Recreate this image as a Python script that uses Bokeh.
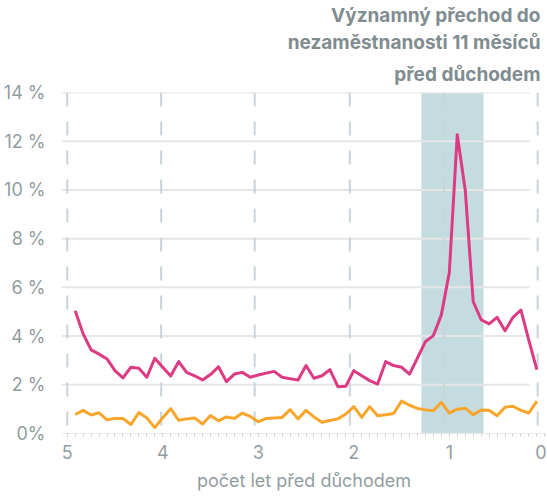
from bokeh.plotting import figure
from bokeh.models import Range1d, Span, Title, SingleIntervalTicker, FixedTicker
from bokeh.embed import file_html
from bokeh.resources import INLINE

# months before retirement (59 .. 1)
months = list(range(59, 0, -1))
pink = [5.04, 4.09, 3.43, 3.26, 3.06, 2.58, 2.28, 2.72, 2.68, 2.31,
        3.09, 2.72, 2.36, 2.95, 2.51, 2.37, 2.20, 2.42, 2.74, 2.13,
        2.44, 2.51, 2.31, 2.40, 2.48, 2.55, 2.31, 2.25, 2.20, 2.79,
        2.27, 2.37, 2.62, 1.92, 1.94, 2.58, 2.37, 2.17, 2.03, 2.95,
        2.79, 2.72, 2.44, 3.10, 3.77, 4.02, 4.87, 6.61, 12.27, 10.00,
        5.42, 4.67, 4.50, 4.77, 4.22, 4.77, 5.07, 3.81, 2.62]
orange = [0.78, 0.95, 0.76, 0.85, 0.56, 0.62, 0.62, 0.37, 0.86, 0.64,
          0.24, 0.65, 1.02, 0.54, 0.60, 0.64, 0.39, 0.74, 0.52, 0.68,
          0.62, 0.84, 0.70, 0.48, 0.62, 0.64, 0.66, 0.98, 0.60, 0.95,
          0.68, 0.46, 0.53, 0.60, 0.80, 1.10, 0.66, 1.10, 0.73, 0.77,
          0.82, 1.33, 1.16, 1.03, 0.97, 0.93, 1.28, 0.84, 1.00, 1.04,
          0.77, 0.96, 0.95, 0.73, 1.08, 1.12, 0.95, 0.84, 1.33]

y_ticks = [0, 2, 4, 6, 8, 10, 12, 14]
y_labels = ["0%", "2 %", "4 %", "6 %", "8 %", "10 %", "12 %", "14 %"]
x_ticks = [60, 48, 36, 24, 12, 0]
x_labels = ["5", "4", "3", "2", "1", "0"]
band_start = [15.5]
band_end = [7.7]
band_top = [14]
band_bottom = [0]
vgrid_pos = [60, 48.2, 36.45, 24.5, 12.7, 0.9]
title_lines = ["Významný přechod do", "nezaměstnanosti 11 měsíců", "před důchodem"]
x_title = "počet let před důchodem"

FONT = "Inter"
LABEL_COLOR = "#929da0"

p = figure(frame_width=485, frame_height=341,
           x_range=Range1d(60.72, -0.21), y_range=Range1d(0, 14),
           output_backend="svg", toolbar_location=None,
           min_border_left=54, min_border_right=0, min_border_bottom=56,
           min_border_top=0, outline_line_color=None)

p.xgrid.grid_line_color = None
p.ygrid.grid_line_color = None

# shaded band
p.quad(left=band_start, right=band_end, top=band_top, bottom=band_bottom,
       fill_color="#c4dce0", line_color=None, level="image")

# horizontal grid lines
p.segment(x0=[60.72] * (len(y_ticks) - 1), x1=[1.9] * (len(y_ticks) - 1),
          y0=y_ticks[1:], y1=y_ticks[1:], line_color="#e6e6e6", line_width=2,
          level="underlay")

# vertical dashed lines
for v in vgrid_pos:
    p.add_layout(Span(location=v, dimension="height", line_color="#c9d4d9",
                      line_width=2, line_dash="14 15", level="underlay"))

p.line(months, pink, line_color="#dc3a82", line_width=3, line_join="round")
p.line(months, orange, line_color="#f9a52b", line_width=3, line_join="round")

# y axis
ya = p.yaxis[0]
ya.ticker = FixedTicker(ticks=y_ticks)
ya.major_label_overrides = {t: l for t, l in zip(y_ticks, y_labels)}
ya.axis_line_color = None
ya.major_tick_line_color = None
ya.minor_tick_line_color = None
ya.major_label_standoff = 10
ya.major_label_text_font = FONT
ya.major_label_text_font_size = "18px"
ya.major_label_text_color = LABEL_COLOR

# x axis
xa = p.xaxis[0]
xa.ticker = SingleIntervalTicker(interval=12, num_minor_ticks=12)
xa.major_label_overrides = {t: l for t, l in zip(x_ticks, x_labels)}
xa.axis_line_color = "#e8e8e8"
xa.major_tick_line_color = "#c9d0d3"
xa.minor_tick_line_color = "#c9d0d3"
xa.major_tick_in = 0
xa.major_tick_out = 3
xa.minor_tick_in = 0
xa.minor_tick_out = 3
xa.major_label_standoff = 8
xa.major_label_text_font = FONT
xa.major_label_text_font_size = "18px"
xa.major_label_text_color = LABEL_COLOR
xa.axis_label = x_title
xa.axis_label_text_font = FONT
xa.axis_label_text_font_size = "18px"
xa.axis_label_text_font_style = "normal"
xa.axis_label_text_color = LABEL_COLOR
xa.axis_label_standoff = 8

for i, t in enumerate(reversed(title_lines)):
    p.add_layout(Title(text=t, align="right", text_font=FONT,
                       text_font_size="19px", text_font_style="bold",
                       text_color="#808c8f", standoff=(13 if i == 0 else 2),
                       offset=6), "above")

open("out.html", "w").write(file_html(p, INLINE))
